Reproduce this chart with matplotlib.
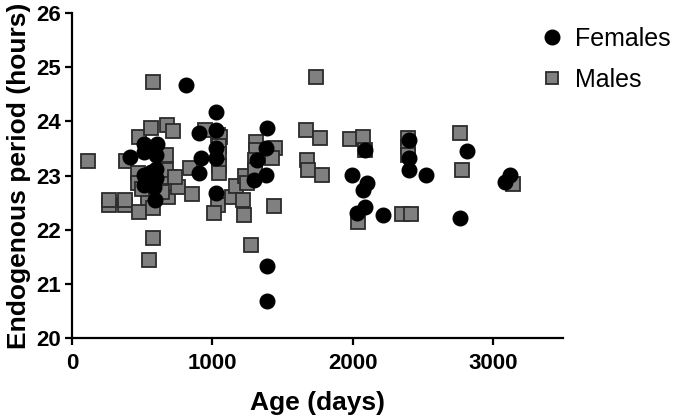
import matplotlib
matplotlib.use("Agg")
import matplotlib.pyplot as plt
from matplotlib.lines import Line2D

# ---- data (age in days, endogenous period in hours) ----
female_age = [416, 512, 607, 516, 600, 600, 516, 600, 516, 588, 595, 560,
              814, 1024, 904, 1028, 1024, 1024, 921, 909, 1028,
              1390, 1386, 1319, 1295, 1381, 1390, 1390,
              2088, 1993, 2100, 2076, 2088, 2029, 2214,
              2402, 2402, 2402, 2524, 2814, 2766, 3124, 3088]
female_period = [23.35, 23.59, 23.59, 23.44, 23.38, 23.13, 23.01, 22.95, 22.82, 22.79, 22.55, 23.07,
                 24.67, 24.18, 23.78, 23.84, 23.50, 23.33, 23.33, 23.04, 22.68,
                 23.87, 23.50, 23.28, 22.92, 23.01, 21.33, 20.69,
                 23.47, 23.01, 22.86, 22.73, 22.42, 22.30, 22.27,
                 23.66, 23.32, 23.10, 23.01, 23.46, 22.21, 23.01, 22.89]

male_age = [117, 262, 262, 380, 380, 385, 469, 469, 476, 481, 540, 564, 576, 576, 576, 552,
            671, 678, 723, 695, 683, 759, 671, 731, 500, 640, 838, 855,
            946, 1040, 1052, 1047, 1047, 1047, 1047, 1040, 1016,
            1143, 1171, 1219, 1226, 1231, 1250, 1274, 1309, 1309, 1302, 1302,
            1446, 1428, 1440, 1671, 1771, 1676, 1683, 1779, 1736,
            1981, 2076, 2088, 2041, 2350, 2416, 2398, 2398, 2398,
            2766, 2778, 3143]
male_period = [23.27, 22.45, 22.55, 22.45, 22.55, 23.27, 23.04, 22.86, 23.72, 22.33, 22.58, 23.87, 24.72, 22.40, 21.84, 21.44,
               23.38, 23.93, 23.83, 22.97, 22.61, 22.79, 23.10, 22.98, 22.75, 22.70, 23.14, 22.66,
               23.84, 23.75, 23.72, 23.55, 23.40, 23.18, 23.04, 22.45, 22.31,
               22.60, 22.80, 22.55, 22.27, 23.00, 22.86, 21.72, 23.62, 23.47, 23.29, 23.10,
               23.50, 23.33, 22.44, 23.84, 23.69, 23.29, 23.10, 23.01, 24.82,
               23.67, 23.72, 23.47, 22.15, 22.29, 22.29, 23.69, 23.53, 23.38,
               23.78, 23.11, 22.84]

x_ticks = [0, 1000, 2000, 3000]
y_ticks = [20, 21, 22, 23, 24, 25, 26]

plt.rcParams['font.family'] = ['Liberation Sans', 'DejaVu Sans']

fig = plt.figure(figsize=(6.85, 4.15), dpi=100)
ax = fig.add_axes([0.105, 0.1855, 0.717, 0.783])

ax.plot(male_age, male_period, linestyle='none', marker='s', markersize=9.5,
        markerfacecolor='#808080', markeredgecolor='#2b2b2b', markeredgewidth=1.3,
        clip_on=False, zorder=3)
ax.plot(female_age, female_period, linestyle='none', marker='o', markersize=10.5,
        markerfacecolor='black', markeredgecolor='black', clip_on=False, zorder=4)

ax.set_xlim(0, 3500)
ax.set_ylim(20, 26)
ax.set_xticks(x_ticks)
ax.set_yticks(y_ticks)

for s in ['top', 'right']:
    ax.spines[s].set_visible(False)
for s in ['left', 'bottom']:
    ax.spines[s].set_linewidth(1.6)
ax.tick_params(axis='both', direction='out', length=5, width=1.6, labelsize=16)
ax.tick_params(axis='x', pad=6)
ax.tick_params(axis='y', pad=3)
for lab in ax.get_xticklabels() + ax.get_yticklabels():
    lab.set_fontweight('bold')

ax.set_xlabel('Age (days)', fontsize=19, fontweight='bold', labelpad=12)
ax.set_ylabel('Endogenous period (hours)', fontsize=19, fontweight='bold', labelpad=4)

handles = [Line2D([], [], linestyle='none', marker='o', markersize=10.5, color='black'),
           Line2D([], [], linestyle='none', marker='s', markersize=9,
                  markerfacecolor='#808080', markeredgecolor='#2b2b2b', markeredgewidth=1.3)]
leg = ax.legend(handles, ['Females', 'Males'], loc='upper left',
                bbox_to_anchor=(0.77, 0.96), bbox_transform=fig.transFigure,
                frameon=False, fontsize=18, handletextpad=0.3, labelspacing=0.68,
                handlelength=1.2, borderaxespad=0)

fig.savefig('out.png', dpi=100)
